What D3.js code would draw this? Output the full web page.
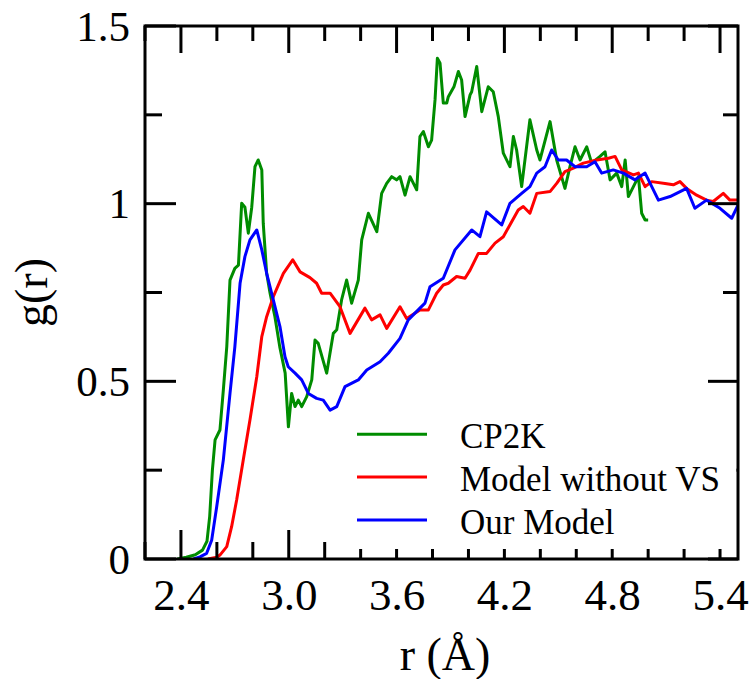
<!DOCTYPE html>
<html><head><meta charset="utf-8">
<script src="https://cdn.jsdelivr.net/npm/d3@7"></script>
<style>body{margin:0;background:#fff}svg{display:block}</style>
</head><body>
<svg id="chart" width="752" height="679"></svg>
<script>
// ---- data ----
const rCP2K = [2.38,2.43,2.48,2.52,2.545,2.56,2.575,2.59,2.617,2.636,2.655,2.673,2.70,2.72,2.738,2.756,2.775,2.794,2.812,2.83,2.85,2.858,2.877,2.896,2.923,2.95,2.98,2.998,3.016,3.035,3.053,3.072,3.1,3.128,3.146,3.164,3.211,3.248,3.267,3.294,3.322,3.35,3.387,3.406,3.443,3.49,3.517,3.545,3.573,3.6,3.619,3.647,3.675,3.712,3.73,3.749,3.777,3.795,3.814,3.827,3.842,3.86,3.879,3.888,3.92,3.944,3.962,3.981,4.009,4.018,4.046,4.074,4.11,4.138,4.166,4.194,4.231,4.25,4.268,4.296,4.342,4.38,4.398,4.454,4.491,4.537,4.565,4.593,4.621,4.658,4.686,4.732,4.76,4.788,4.825,4.853,4.872,4.89,4.918,4.946,4.964,4.983,5.0];
const gCP2K = [0.0,0.005,0.012,0.025,0.05,0.12,0.25,0.335,0.363,0.476,0.597,0.785,0.818,0.827,1.001,0.99,0.917,0.99,1.104,1.123,1.095,0.945,0.804,0.748,0.682,0.597,0.523,0.372,0.466,0.429,0.447,0.429,0.457,0.504,0.616,0.607,0.523,0.635,0.645,0.729,0.785,0.72,0.785,0.898,0.973,0.921,1.029,1.057,1.076,1.067,1.076,1.024,1.076,1.039,1.189,1.203,1.16,1.179,1.292,1.409,1.395,1.283,1.283,1.301,1.33,1.372,1.348,1.245,1.306,1.315,1.386,1.259,1.329,1.315,1.245,1.142,1.104,1.189,1.151,1.048,1.236,1.151,1.123,1.231,1.123,1.043,1.104,1.16,1.123,1.16,1.114,1.133,1.146,1.067,1.086,1.048,1.123,1.02,1.048,1.076,0.973,0.954,0.954];

const rNoVS = [2.55,2.6,2.617,2.655,2.682,2.71,2.747,2.784,2.822,2.85,2.877,2.914,2.97,3.022,3.063,3.118,3.155,3.183,3.23,3.285,3.341,3.424,3.461,3.508,3.545,3.619,3.656,3.73,3.777,3.823,3.86,3.888,3.934,3.981,4.009,4.055,4.101,4.148,4.194,4.277,4.305,4.342,4.38,4.454,4.491,4.537,4.584,4.639,4.714,4.779,4.816,4.853,4.918,4.946,4.983,5.02,5.094,5.14,5.177,5.214,5.27,5.325,5.362,5.418,5.455,5.5];
const gNoVS = [0.0,0.005,0.011,0.035,0.091,0.166,0.279,0.391,0.513,0.626,0.682,0.738,0.804,0.842,0.808,0.792,0.776,0.748,0.748,0.71,0.635,0.706,0.673,0.687,0.649,0.71,0.677,0.701,0.701,0.748,0.771,0.776,0.795,0.79,0.813,0.86,0.86,0.889,0.907,0.982,0.992,0.973,1.029,1.034,1.057,1.09,1.1,1.114,1.123,1.128,1.133,1.095,1.081,1.086,1.048,1.062,1.057,1.053,1.062,1.043,1.024,1.01,1.006,1.029,1.01,1.01];

const rOurs = [2.47,2.506,2.543,2.571,2.599,2.636,2.673,2.70,2.729,2.756,2.784,2.822,2.85,2.877,2.914,2.951,2.979,2.997,3.035,3.072,3.109,3.155,3.192,3.23,3.267,3.313,3.387,3.434,3.508,3.554,3.619,3.665,3.73,3.758,3.786,3.86,3.925,4.018,4.064,4.101,4.185,4.231,4.296,4.342,4.38,4.426,4.463,4.5,4.546,4.593,4.658,4.704,4.741,4.806,4.862,4.927,4.983,5.057,5.122,5.214,5.26,5.325,5.4,5.465,5.5];
const gOurs = [0.0,0.006,0.016,0.053,0.147,0.279,0.466,0.597,0.776,0.851,0.898,0.926,0.87,0.804,0.729,0.654,0.569,0.541,0.523,0.504,0.466,0.452,0.447,0.419,0.429,0.485,0.504,0.532,0.555,0.579,0.621,0.673,0.706,0.72,0.766,0.79,0.87,0.926,0.907,0.977,0.94,1.001,1.029,1.048,1.086,1.104,1.151,1.123,1.123,1.104,1.104,1.118,1.086,1.095,1.086,1.067,1.086,1.01,1.02,1.043,0.987,1.01,0.987,0.959,0.996];

const seriesNames = ["CP2K", "Model without VS", "Our Model"];
const seriesColors = ["#008c00", "#ff0000", "#0000ff"];
const xTickLabels = ["2.4", "3.0", "3.6", "4.2", "4.8", "5.4"];
const yTickLabels = ["0", "0.5", "1", "1.5"];
const xMinorTicks = [2.2,2.4,2.6,2.8,3.0,3.2,3.4,3.6,3.8,4.0,4.2,4.4,4.6,4.8,5.0,5.2,5.4];
const yMinorTicks = [0,0.25,0.5,0.75,1,1.25,1.5];
const xTitle = "r (Å)";
const yTitle = "g(r)";

// ---- layout ----
const W = 752, H = 679;
const m = {left: 145, top: 26, right: 14, bottom: 120};
const pw = W - m.left - m.right, ph = H - m.top - m.bottom;
const font = "'Liberation Serif', 'Times New Roman', serif";

const svg = d3.select("#chart");
const g = svg.append("g").attr("transform", `translate(${m.left},${m.top})`);
const x = d3.scaleLinear().domain([2.2, 5.5]).range([0, pw]);
const y = d3.scaleLinear().domain([0, 1.5]).range([ph, 0]);

svg.append("defs").append("clipPath").attr("id", "clip")
  .append("rect").attr("width", pw).attr("height", ph);

// curves
const series = [
  {r: rCP2K, v: gCP2K}, {r: rNoVS, v: gNoVS}, {r: rOurs, v: gOurs}
];
const line = d3.line().x(d => x(d[0])).y(d => y(d[1]));
const curves = g.append("g").attr("clip-path", "url(#clip)");
series.forEach((s, i) => {
  const pts = s.r.map((rv, k) => [rv, s.v[k]]);
  curves.append("path").datum(pts).attr("d", line)
    .attr("fill", "none").attr("stroke", seriesColors[i])
    .attr("stroke-width", 3).attr("stroke-linejoin", "round");
});

// ticks on all 4 sides (inward)
const major = 29, minor = 17;
const xMajorVals = xTickLabels.map(Number);
const yMajorVals = yTickLabels.map(Number);
const isXMajor = v => xMajorVals.some(t => Math.abs(t - v) < 1e-6);
const isYMajor = v => yMajorVals.some(t => Math.abs(t - v) < 1e-6);
const tk = g.append("g").attr("stroke", "#000").attr("stroke-width", 3);
xMinorTicks.forEach(v => {
  const L = isXMajor(v) ? major : minor;
  tk.append("line").attr("x1", x(v)).attr("x2", x(v)).attr("y1", ph).attr("y2", ph - L);
  tk.append("line").attr("x1", x(v)).attr("x2", x(v)).attr("y1", 0).attr("y2", isXMajor(v) ? 27 : 15);
});
yMinorTicks.forEach(v => {
  const L = isYMajor(v) ? 31 : 17;
  tk.append("line").attr("x1", 0).attr("x2", L).attr("y1", y(v)).attr("y2", y(v));
  tk.append("line").attr("x1", pw).attr("x2", pw - (isYMajor(v) ? 30 : 15)).attr("y1", y(v)).attr("y2", y(v));
});

// legend with opaque white box
const leg = g.append("g");
leg.append("rect").attr("x", 195).attr("y", 379).attr("width", pw - 196.5).attr("height", 144)
  .attr("fill", "#fff");
seriesNames.forEach((name, i) => {
  const ly = 408.3 + i * 42.8;
  leg.append("line").attr("x1", 212).attr("x2", 282).attr("y1", ly).attr("y2", ly)
    .attr("stroke", seriesColors[i]).attr("stroke-width", 3);
  leg.append("text").attr("x", 315).attr("y", ly + 14).text(name)
    .attr("font-family", font).attr("font-size", 35).attr("fill", "#000");
});

// frame
g.append("rect").attr("width", pw).attr("height", ph)
  .attr("fill", "none").attr("stroke", "#000").attr("stroke-width", 3);

// tick labels via d3 axes (no tick lines)
const xAxis = d3.axisBottom(x).tickValues(xMajorVals).tickFormat((d, i) => xTickLabels[i]).tickSize(0).tickPadding(0);
const xa = g.append("g").attr("transform", `translate(0,${ph})`).call(xAxis);
xa.select(".domain").remove();
xa.selectAll("text").attr("font-family", font).attr("font-size", 45).attr("fill", "#000")
  .attr("dy", null).attr("y", 51);

const yAxis = d3.axisLeft(y).tickValues(yMajorVals).tickFormat((d, i) => yTickLabels[i]).tickSize(0).tickPadding(15);
const ya = g.append("g").call(yAxis);
ya.select(".domain").remove();
ya.selectAll("text").attr("font-family", font).attr("font-size", 43).attr("fill", "#000")
  .attr("dy", "0.33em");

// axis titles
svg.append("text").attr("x", 445).attr("y", 670).attr("text-anchor", "middle")
  .attr("font-family", font).attr("font-size", 46).text(xTitle);
svg.append("text").attr("transform", `translate(47,${m.top + y(0.75)}) rotate(-90)`)
  .attr("text-anchor", "middle").attr("font-family", font).attr("font-size", 46).text(yTitle);
</script>
</body></html>
